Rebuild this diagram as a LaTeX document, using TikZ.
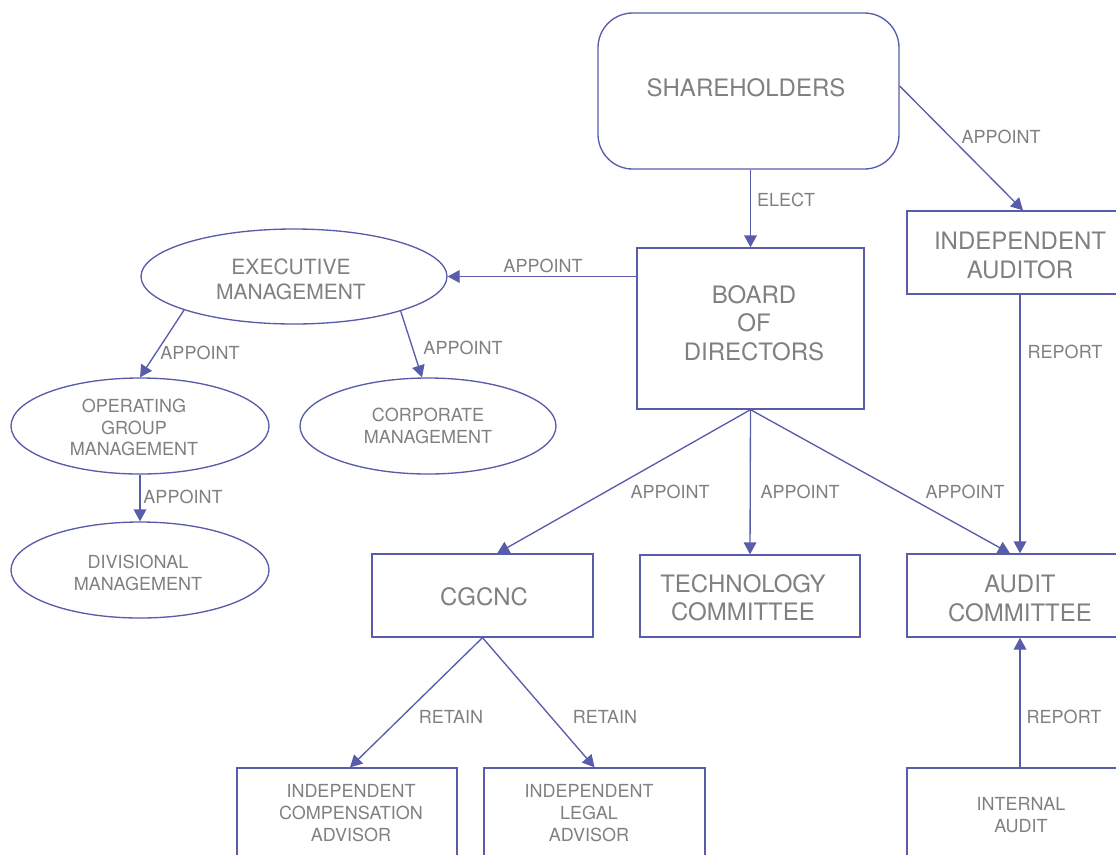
\documentclass[tikz,border=0pt]{standalone}
\usepackage{fontspec}
\setmainfont{TeX Gyre Heros}
\usetikzlibrary{arrows.meta,shapes.geometric,calc}
\definecolor{edge}{RGB}{88,92,170}
\definecolor{ink}{RGB}{128,128,128}
\begin{document}
\begin{tikzpicture}[x=0.75pt,y=-0.75pt,
 frame/.style={draw=edge, line width=1pt, text=ink, align=center, inner sep=0pt, text depth=0pt},
 rbox/.style={frame, rectangle},
 ell/.style={frame, ellipse},
 fbig/.style={font=\fontsize{18}{21.6}\selectfont},
 fmid/.style={font=\fontsize{15.75}{18.9}\selectfont},
 fsmall/.style={font=\fontsize{13.5}{16.2}\selectfont},
 txt/.style={text=ink, align=center, inner sep=0pt, text depth=0pt},
 lbl/.style={text=ink, inner sep=0pt, font=\fontsize{13.5}{16.2}\selectfont},
 arr/.style={draw=edge, line width=1pt, -{Triangle[length=9pt,width=9.5pt]}},
 sz/.style 2 args={minimum width=#1*0.75pt, minimum height=#2*0.75pt},
]
\useasboundingbox (0,0) rectangle (1116,854);
\clip (0,0) rectangle (1116,854);

% boxes
\node[rbox, rounded corners=26pt, sz={301}{156}] (sh) at (748.5,91) {};
\node[txt, fbig] (sht) at (746,87.5) {SHAREHOLDERS};
\node[rbox, sz={227}{161}] (board) at (750.5,328.5) {};
\node[txt, fbig] (boardt) at (754,323) {BOARD\\OF\\DIRECTORS};
\node[rbox, sz={226}{83}] (aud) at (1020,252.5) {};
\node[txt, fbig] (audt) at (1020,255.5) {INDEPENDENT\\AUDITOR};
\node[rbox, sz={226}{83}] (ac) at (1020,595.5) {};
\node[txt, fbig] (act) at (1020,598) {AUDIT\\COMMITTEE};
\node[rbox, sz={220}{82}] (tech) at (750,596) {};
\node[txt, fbig] (techt) at (743,597.5) {TECHNOLOGY\\COMMITTEE};
\node[rbox, sz={221}{83}] (cg) at (482.5,595.5) {};
\node[txt, fbig] (cgt) at (484,597) {CGCNC};
\node[rbox, sz={220}{92}] (comp) at (347,814) {};
\node[txt, fsmall] (compt) at (351,813) {INDEPENDENT\\COMPENSATION\\ADVISOR};
\node[rbox, sz={221}{92}] (legal) at (594.5,814) {};
\node[txt, fsmall] (legalt) at (589,813) {INDEPENDENT\\LEGAL\\ADVISOR};
\node[rbox, sz={226}{92}] (ia) at (1020,814) {};
\node[txt, fsmall] (iat) at (1021,815) {INTERNAL\\AUDIT};

% ellipses
\node[ell, sz={306}{95}] (exec) at (294,276.5) {};
\node[txt, fmid] (exect) at (291,279.5) {EXECUTIVE\\MANAGEMENT};
\node[ell, sz={258}{96}] (op) at (140,426) {};
\node[txt, fsmall] (opt) at (134,427.5) {OPERATING\\GROUP\\MANAGEMENT};
\node[ell, sz={256}{96}] (corp) at (428,426) {};
\node[txt, fsmall] (corpt) at (428,426) {CORPORATE\\MANAGEMENT};
\node[ell, sz={258}{96}] (div) at (140,570) {};
\node[txt, fsmall] (divt) at (138,572.5) {DIVISIONAL\\MANAGEMENT};

% connectors
\draw[arr] (sh.south -| board.north) -- (board.north);
\draw[arr] ($(sh.east)+(0,-5)$) -- ($(aud.north)+(3,0)$);
\draw[arr] (board.west |- exec.east) -- (exec.east);
\draw[arr] (exec.197) -- (op.north);
\draw[arr] (exec.342) -- (corp.97);
\draw[arr] (op.south) -- (div.north);
\draw[arr] (board.south) -- ($(cg.north west)!0.566!(cg.north east)$);
\draw[arr] (board.south) -- (tech.north);
\draw[arr] (board.south) -- ($(ac.north west)!0.456!(ac.north east)$);
\draw[arr] (aud.south) -- (ac.north);
\draw[arr] (ia.north) -- (ac.south);
\draw[arr] (cg.south) -- ($(comp.north)+(3,0)$);
\draw[arr] (cg.south) -- (legal.north);

% labels
\node[lbl] (l1) at (786,200) {ELECT};
\node[lbl] (l2) at (1001,137) {APPOINT};
\node[lbl] (l3) at (543,266) {APPOINT};
\node[lbl] (l4) at (200,353) {APPOINT};
\node[lbl] (l5) at (463,348) {APPOINT};
\node[lbl] (l6) at (183,497) {APPOINT};
\node[lbl] (l7) at (670,492) {APPOINT};
\node[lbl] (l8) at (800,492) {APPOINT};
\node[lbl] (l9) at (965,492) {APPOINT};
\node[lbl] (l10) at (1065,352) {REPORT};
\node[lbl] (l11) at (451,717) {RETAIN};
\node[lbl] (l12) at (605,717) {RETAIN};
\node[lbl] (l13) at (1064,717) {REPORT};
\end{tikzpicture}
\end{document}
